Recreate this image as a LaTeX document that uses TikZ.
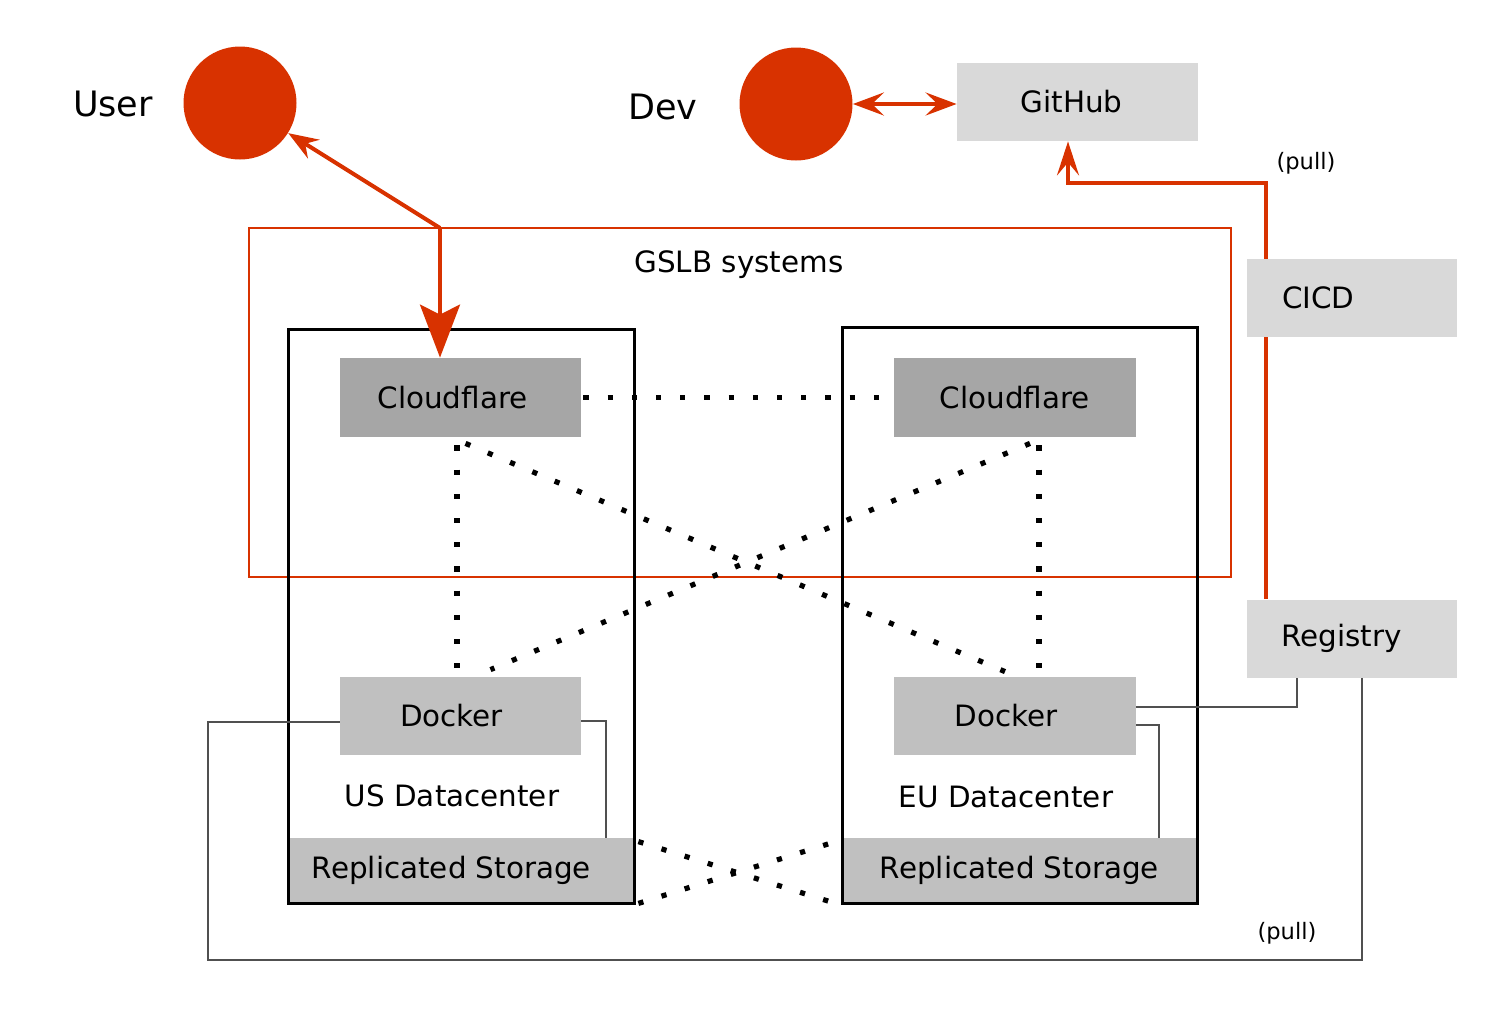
\documentclass[tikz,border=0pt]{standalone}
\usepackage{fontspec}
\setmainfont{DejaVu Sans}
\usetikzlibrary{arrows.meta,calc}
\definecolor{ored}{RGB}{216,50,0}
\definecolor{lgray}{RGB}{217,217,217}
\definecolor{mgray}{RGB}{166,166,166}
\definecolor{sgray}{RGB}{192,192,192}
\definecolor{wirec}{RGB}{80,80,80}
\begin{document}
\begin{tikzpicture}[x=0.5pt,y=-0.5pt,
  box/.style={rectangle,draw=none,inner sep=0pt,font=\fontsize{14.7}{18}\selectfont},
  lbl/.style={inner sep=0pt,font=\fontsize{14.7}{18}\selectfont},
  biglbl/.style={inner sep=0pt,font=\fontsize{17.5}{21}\selectfont},
  smalllbl/.style={inner sep=0pt,font=\fontsize{11.3}{13}\selectfont},
  persona/.style={circle,fill=ored,draw=none,minimum size=56.5pt,inner sep=0pt},
  dcbox/.style={rectangle,draw=black,line width=1.5pt,inner sep=0pt},
  sidebox/.style={rectangle,fill=lgray,draw=none,minimum width=105pt,minimum height=39pt,
    text width=70pt,align=left,inner xsep=17.5pt,inner ysep=0pt,font=\fontsize{14.7}{18}\selectfont},
  dotline/.style={line width=2.6pt,dash pattern=on 2.6pt off 9.5pt},
  redline/.style={draw=ored,line width=2pt},
  wire/.style={draw=wirec,line width=0.7pt},
  usertip/.style={-{Stealth[length=15pt,width=11pt,inset=5pt]}},
  ghtip/.style={-{Stealth[length=17pt,width=11pt,inset=6.5pt]}},
  devtip/.style={{Stealth[length=15.5pt,width=11.5pt,inset=6pt]}-{Stealth[length=15.5pt,width=11.5pt,inset=6pt]}}
]
\useasboundingbox (0,0) rectangle (1500,1013);

% people
\node[persona] (user) at (240,103) {};
\node[biglbl] (userlbl) at (113,104) {User};
\node[persona] (dev) at (796,104) {};
\node[biglbl] (devlbl) at (663,107) {Dev};
\node[box,fill=lgray,minimum width=120.5pt,minimum height=39pt] (gh) at (1077.5,102) {\hspace*{-6pt}GitHub};

% GSLB
\node[rectangle,draw=ored,line width=1.25pt,minimum width=491pt,minimum height=174.5pt,inner sep=0pt] (gslb) at (740,402.5) {};
\node[lbl] (gslblbl) at (739,265) {GSLB systems};

% storage
\node[box,fill=sgray,minimum width=173.5pt,minimum height=32.5pt] (stUS) at (460.5,870.5) {\hspace*{-9pt}Replicated Storage};
\node[box,fill=sgray,minimum width=177.5pt,minimum height=32.5pt] (stEU) at (1019.5,870.5) {Replicated Storage};

% datacenters
\node[dcbox,minimum width=173pt,minimum height=287pt] (dcUS) at (461,616) {};
\node[dcbox,minimum width=177.5pt,minimum height=288pt] (dcEU) at (1019.5,615) {};
\node[lbl] (usl) at (452,796) {US Datacenter};
\node[lbl] (eul) at (1006,797) {EU Datacenter};

% cloudflare & docker
\node[box,fill=mgray,minimum width=120.5pt,minimum height=39.5pt] (cfUS) at (460.5,397.5) {\hspace*{-8pt}Cloudflare};
\node[box,fill=mgray,minimum width=121pt,minimum height=39.5pt] (cfEU) at (1015,397.5) {Cloudflare};
\node[box,fill=sgray,minimum width=120.5pt,minimum height=39pt] (dUS) at (460.5,716) {\hspace*{-9pt}Docker};
\node[box,fill=sgray,minimum width=121pt,minimum height=39pt] (dEU) at (1015,716) {\hspace*{-9pt}Docker};

% dotted links
\draw[dotline] ([xshift=1pt]cfUS.east) -- ([xshift=-2pt]cfEU.west);
\draw[dotline] ($(cfUS.south)+(-3.5,8)$) -- ($(dUS.north)+(-3.5,0)$);
\draw[dotline] ($(cfEU.south)+(24,8)$) -- ($(dEU.north)+(24,0)$);
\draw[dotline] ($(cfUS.south)+(5,6)$) -- ($(dEU.north)+(-10,-5)$);
\draw[dotline] ($(cfEU.south)+(15,6)$) -- ($(dUS.north)+(30,-7)$);
\draw[dotline] ($(stUS.north east)+(4,4)$) -- ($(stEU.south west)+(-6,0)$);
\draw[dotline] ($(stUS.south east)+(4,0)$) -- ($(stEU.north west)+(-6,4)$);

% red arrows
\coordinate (junc) at (440,228);
\draw[redline,usertip] (junc) -- (user);
\draw[redline,-{Stealth[length=26.5pt,width=20pt,inset=5pt]}] (junc) -- (junc |- cfUS.north);
\draw[redline,devtip] (dev) -- (dev -| gh.west);

% registry / cicd
\node[sidebox] (reg) at (1351.5,638.5) {Registry};
\coordinate (p1) at (1266,183);
\coordinate (p2) at (1068,183);
\draw[redline,ghtip] (reg.north -| p1) -- (p1) -- (p2) -- (p2 |- gh.south);
\node[sidebox] (cicd) at (1352,298) {CICD};
\node[smalllbl] (pull1) at (1306,163) {(pull)};

% thin wires
\coordinate (w1) at (1297,707);
\draw[wire] (w1 -| dEU.east) -- (w1) -- (w1 |- reg.south);
\coordinate (w5) at (606,721);
\draw[wire] (w5 -| dUS.east) -- (w5) -- (w5 |- stUS.north);
\coordinate (w6) at (1159,725);
\draw[wire] (w6 -| dEU.east) -- (w6) -- (w6 |- stEU.north);
\coordinate (w2) at (1362,960);
\coordinate (w4) at (208,722);
\draw[wire] (w2 |- reg.south) -- (w2) -- (w2 -| w4) -- (w4) -- (w4 -| dUS.west);
\node[smalllbl] (pull2) at (1287,933) {(pull)};
\end{tikzpicture}
\end{document}
